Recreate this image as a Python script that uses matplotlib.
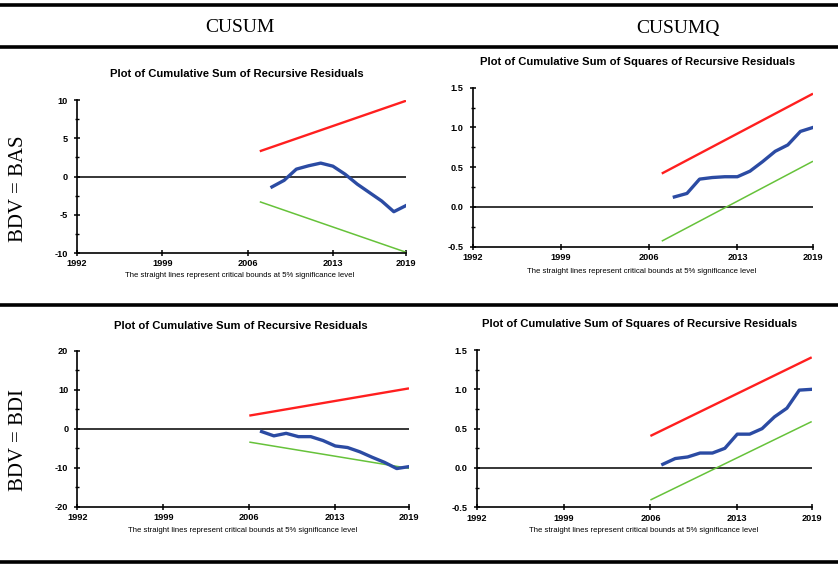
import matplotlib
matplotlib.use("Agg")
import matplotlib.pyplot as plt
from matplotlib.lines import Line2D
from matplotlib.ticker import MultipleLocator

plt.rcParams["axes.unicode_minus"] = False

# DATA
xticks = [1992, 1999, 2006, 2013, 2019]

# BDV = BAS, CUSUM
bas_cusum_years = [2008, 2009, 2010, 2011, 2012, 2013, 2014, 2015, 2016, 2017, 2018, 2019]
bas_cusum = [-1.36, -0.5, 0.96, 1.4, 1.75, 1.35, 0.3, -1.0, -2.1, -3.2, -4.6, -3.8]
bas_cusum_bound_years = [2007, 2019]
bas_cusum_upper = [3.3, 9.9]
bas_cusum_lower = [-3.3, -9.9]

# BDV = BAS, CUSUMQ
bas_cusumq_years = [2008, 2009, 2010, 2011, 2012, 2013, 2014, 2015, 2016, 2017, 2018, 2019]
bas_cusumq = [0.126, 0.17, 0.35, 0.37, 0.38, 0.38, 0.45, 0.57, 0.70, 0.78, 0.95, 1.0]
bas_cusumq_bound_years = [2007, 2019]
bas_cusumq_upper = [0.42, 1.425]
bas_cusumq_lower = [-0.43, 0.575]

# BDV = BDI, CUSUM
bdi_cusum_years = [2007, 2008, 2009, 2010, 2011, 2012, 2013, 2014, 2015, 2016, 2017, 2018, 2019]
bdi_cusum = [-0.7, -1.8, -1.15, -2.0, -2.0, -3.0, -4.4, -4.8, -5.9, -7.3, -8.6, -10.2, -9.7]
bdi_cusum_bound_years = [2006, 2019]
bdi_cusum_upper = [3.4, 10.4]
bdi_cusum_lower = [-3.4, -10.15]

# BDV = BDI, CUSUMQ
bdi_cusumq_years = [2007, 2008, 2009, 2010, 2011, 2012, 2013, 2014, 2015, 2016, 2017, 2018, 2019]
bdi_cusumq = [0.047, 0.12, 0.14, 0.19, 0.19, 0.25, 0.43, 0.43, 0.50, 0.65, 0.76, 0.99, 1.0]
bdi_cusumq_bound_years = [2006, 2019]
bdi_cusumq_upper = [0.407, 1.407]
bdi_cusumq_lower = [-0.407, 0.59]

title_cusum = "Plot of Cumulative Sum of Recursive Residuals"
title_cusumq = "Plot of Cumulative Sum of Squares of Recursive Residuals"
note = "The straight lines represent critical bounds at 5% significance level"

W, H = 838, 564
fig = plt.figure(figsize=(W / 100, H / 100), dpi=100)


def px(x0, y0, x1, y1):
    # pixel box (top-left origin) -> figure fraction rect
    return [x0 / W, 1 - y1 / H, (x1 - x0) / W, (y1 - y0) / H]


def panel(rect, years, vals, byears, upper, lower, ylim, major, minor, yfmt,
          title, title_xy, note_xy):
    ax = fig.add_axes(rect)
    ax.plot(byears, upper, color="#ff1f1f", lw=1.7, solid_capstyle="butt")
    ax.plot(byears, lower, color="#66c23a", lw=1.1, solid_capstyle="butt")
    ax.plot(years, vals, color="#2b4ba3", lw=2.4, solid_joinstyle="round")
    ax.axhline(0, color="black", lw=1.1, zorder=1)
    ax.set_xlim(1992, 2019)
    ax.set_ylim(*ylim)
    ax.set_xticks(xticks)
    ax.yaxis.set_major_locator(MultipleLocator(major))
    ax.yaxis.set_minor_locator(MultipleLocator(minor))
    ax.yaxis.set_major_formatter(yfmt)
    for s in ["top", "right"]:
        ax.spines[s].set_visible(False)
    for s in ["left", "bottom"]:
        ax.spines[s].set_linewidth(1.2)
    ax.tick_params(axis="both", which="major", direction="inout", length=5,
                   width=1.1, labelsize=6.6, pad=2)
    ax.tick_params(axis="y", which="major", pad=4)
    ax.tick_params(axis="y", which="minor", direction="inout", length=3.5, width=1.0)
    for lab in ax.get_xticklabels() + ax.get_yticklabels():
        lab.set_fontweight("bold")
        lab.set_family("Liberation Sans")
    fig.text(title_xy[0] / W, 1 - title_xy[1] / H, title, ha="center", va="center",
             fontsize=8.1, fontweight="bold", family="Liberation Sans")
    fig.text(note_xy[0] / W, 1 - note_xy[1] / H, note, ha="center", va="center",
             fontsize=5.6, family=["Liberation Sans Narrow", "Liberation Sans"])
    return ax


panel(px(77, 100, 406, 253), bas_cusum_years, bas_cusum, bas_cusum_bound_years,
      bas_cusum_upper, bas_cusum_lower, (-10, 10), 5, 2.5, "{x:.0f}",
      title_cusum, (237, 74), (240, 276))
panel(px(472.7, 87.7, 813, 246.7), bas_cusumq_years, bas_cusumq, bas_cusumq_bound_years,
      bas_cusumq_upper, bas_cusumq_lower, (-0.5, 1.5), 0.5, 0.25, "{x:.1f}",
      title_cusumq, (638, 62), (642, 271))
panel(px(77.3, 351, 409, 506.7), bdi_cusum_years, bdi_cusum, bdi_cusum_bound_years,
      bdi_cusum_upper, bdi_cusum_lower, (-20, 20), 10, 5, "{x:.0f}",
      title_cusum, (241, 326), (243, 530))
panel(px(476.7, 350, 811.7, 507.3), bdi_cusumq_years, bdi_cusumq, bdi_cusumq_bound_years,
      bdi_cusumq_upper, bdi_cusumq_lower, (-0.5, 1.5), 0.5, 0.25, "{x:.1f}",
      title_cusumq, (640, 324), (644, 531))

# table rules
for y, lw in [(5, 2.6), (46.5, 2.6), (304.5, 2.6), (561.5, 2.6)]:
    fig.add_artist(Line2D([0, 1], [1 - y / H, 1 - y / H], color="black", lw=lw,
                          transform=fig.transFigure))

# column headers and row labels
fig.text(240 / W, 1 - 28 / H, "CUSUM", ha="center", va="center", fontsize=14,
         family="Liberation Serif")
fig.text(678 / W, 1 - 28 / H, "CUSUMQ", ha="center", va="center", fontsize=14,
         family="Liberation Serif")
fig.text(19 / W, 1 - 189 / H, "BDV = BAS", ha="center", va="center", rotation=90,
         fontsize=15, family="Liberation Serif")
fig.text(19 / W, 1 - 440 / H, "BDV = BDI", ha="center", va="center", rotation=90,
         fontsize=15, family="Liberation Serif")

fig.savefig("out.png", dpi=100)
